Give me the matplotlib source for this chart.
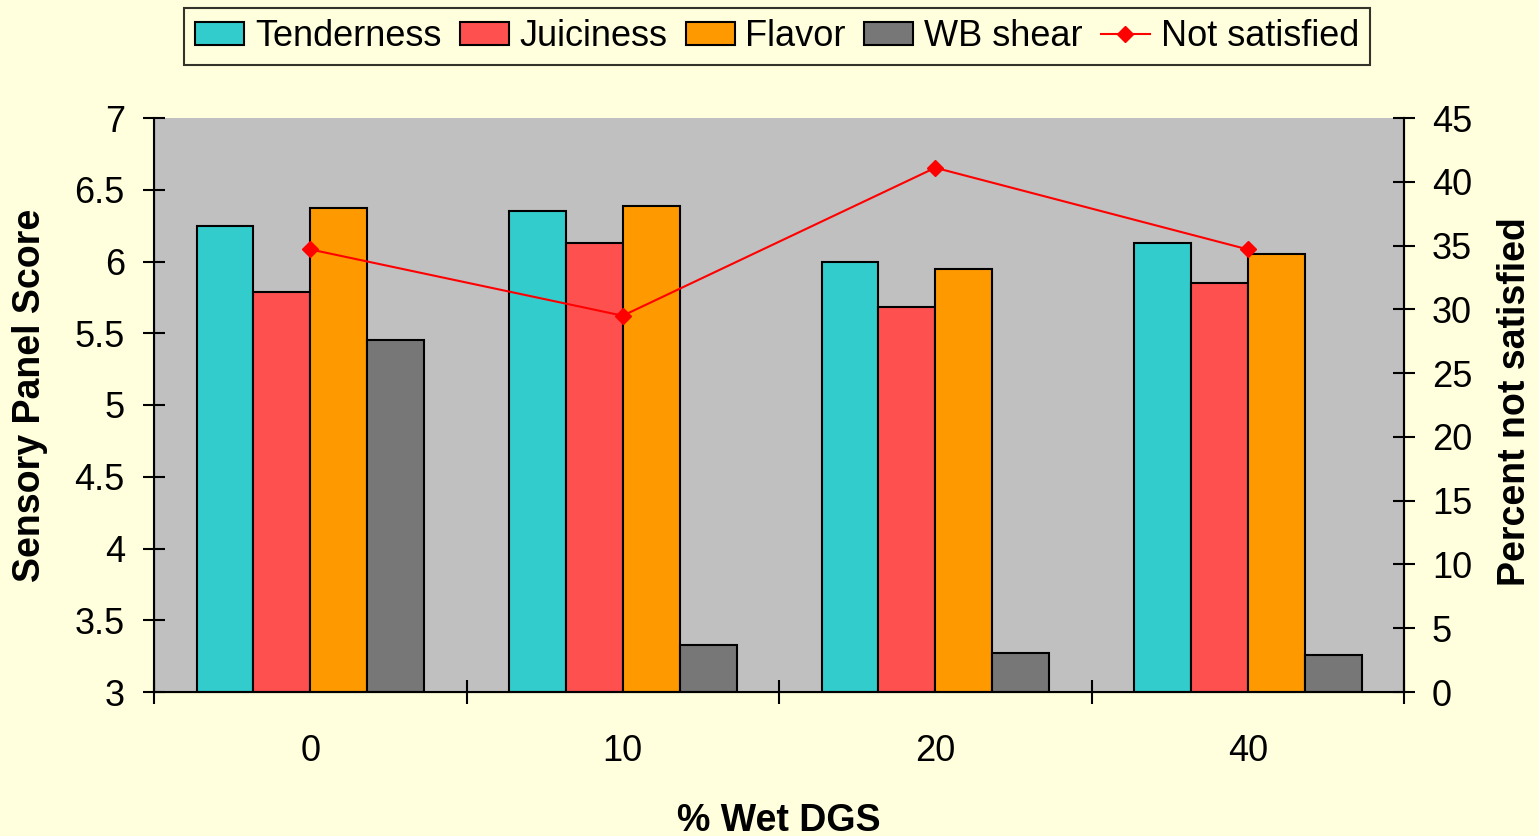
import matplotlib
matplotlib.use("Agg")
import matplotlib.pyplot as plt
from matplotlib.patches import Patch
from matplotlib.lines import Line2D
from matplotlib.ticker import FixedLocator, FuncFormatter
import numpy as np

plt.rcParams['font.family'] = ['Liberation Sans', 'DejaVu Sans']

# data
categories = ['0', '10', '20', '40']
tenderness = [6.25, 6.35, 6.00, 6.13]
juiciness = [5.79, 6.13, 5.68, 5.85]
flavor = [6.37, 6.39, 5.95, 6.05]
wb_shear = [5.45, 3.33, 3.27, 3.26]
not_satisfied = [34.7, 29.5, 41.1, 34.7]

series = [("Tenderness", tenderness, "#33CCCC"),
          ("Juiciness", juiciness, "#FF5050"),
          ("Flavor", flavor, "#FF9900"),
          ("WB shear", wb_shear, "#777777")]

W, H = 1539, 836
bg = "#FFFFDD"
fig = plt.figure(figsize=(W/100, H/100), dpi=100, facecolor=bg)
ax = fig.add_axes([154/W, 1-692/H, (1404-154)/W, (692-118)/H])
ax.set_facecolor("#C0C0C0")

x = np.arange(len(categories))
w = 0.182
for i, (name, vals, col) in enumerate(series):
    ax.bar(x + (i - 1.5)*w, np.array(vals) - 3, w, bottom=3, color=col,
           edgecolor="black", linewidth=1.5, zorder=2)

ax.set_xlim(-0.5, len(categories) - 0.5)
ax.set_ylim(3, 7)
ax.set_yticks(np.arange(3, 7.01, 0.5))
ax.yaxis.set_major_formatter(FuncFormatter(lambda v, p: f"{v:g}"))

# ticks at group boundaries, labels at group centres
ax.xaxis.set_major_locator(FixedLocator(np.arange(-0.5, len(categories), 1.0)))
ax.xaxis.set_major_formatter(FuncFormatter(lambda v, p: ""))
ax.xaxis.set_minor_locator(FixedLocator(x))
ax.set_xticklabels(categories, minor=True)
ax.tick_params(axis='x', which='major', direction='inout', length=17, width=1.5)
ax.tick_params(axis='x', which='minor', length=0, pad=30, labelsize=26)
ax.tick_params(axis='y', direction='inout', length=16, width=1.5, labelsize=26, pad=13)

ax.spines['top'].set_visible(False)
for s in ['left', 'bottom', 'right']:
    ax.spines[s].set_linewidth(1.5)

ax2 = ax.twinx()
ax2.plot(x, not_satisfied, color="#FF0000", linewidth=1.5, marker='D', markersize=8, zorder=3)
ax2.set_ylim(0, 45)
ax2.set_yticks(np.arange(0, 46, 5))
ax2.tick_params(axis='y', direction='inout', length=16, width=1.5, labelsize=26, pad=12)
ax2.spines['top'].set_visible(False)
ax2.spines['right'].set_linewidth(1.5)

# axis titles placed where the reference has them
fig.text(30/W, 1-395/H, "Sensory Panel Score", rotation=90, fontsize=27,
         fontweight='bold', ha='center', va='center')
fig.text(1515/W, 1-402/H, "Percent not satisfied", rotation=90, fontsize=27,
         fontweight='bold', ha='center', va='center')
fig.text(779/W, 1-831/H, "% Wet DGS", fontsize=27, fontweight='bold',
         ha='center', va='baseline')

handles = [Patch(facecolor=c, edgecolor='black', linewidth=1.5, label=n) for n, v, c in series]
handles.append(Line2D([], [], color="#FF0000", linewidth=1.5, marker='D', markersize=8,
                      label="Not satisfied"))
leg = fig.legend(handles=handles, loc='upper center', bbox_to_anchor=(777/W, 1-8/H),
                 ncol=5, fontsize=26, frameon=True, fancybox=False, facecolor=bg,
                 edgecolor='black', handlelength=1.36, handleheight=0.6,
                 handletextpad=0.3, columnspacing=0.5, borderpad=0.3, borderaxespad=0)
leg.get_frame().set_linewidth(1.5)

fig.savefig("out.png", dpi=100, facecolor=bg)
